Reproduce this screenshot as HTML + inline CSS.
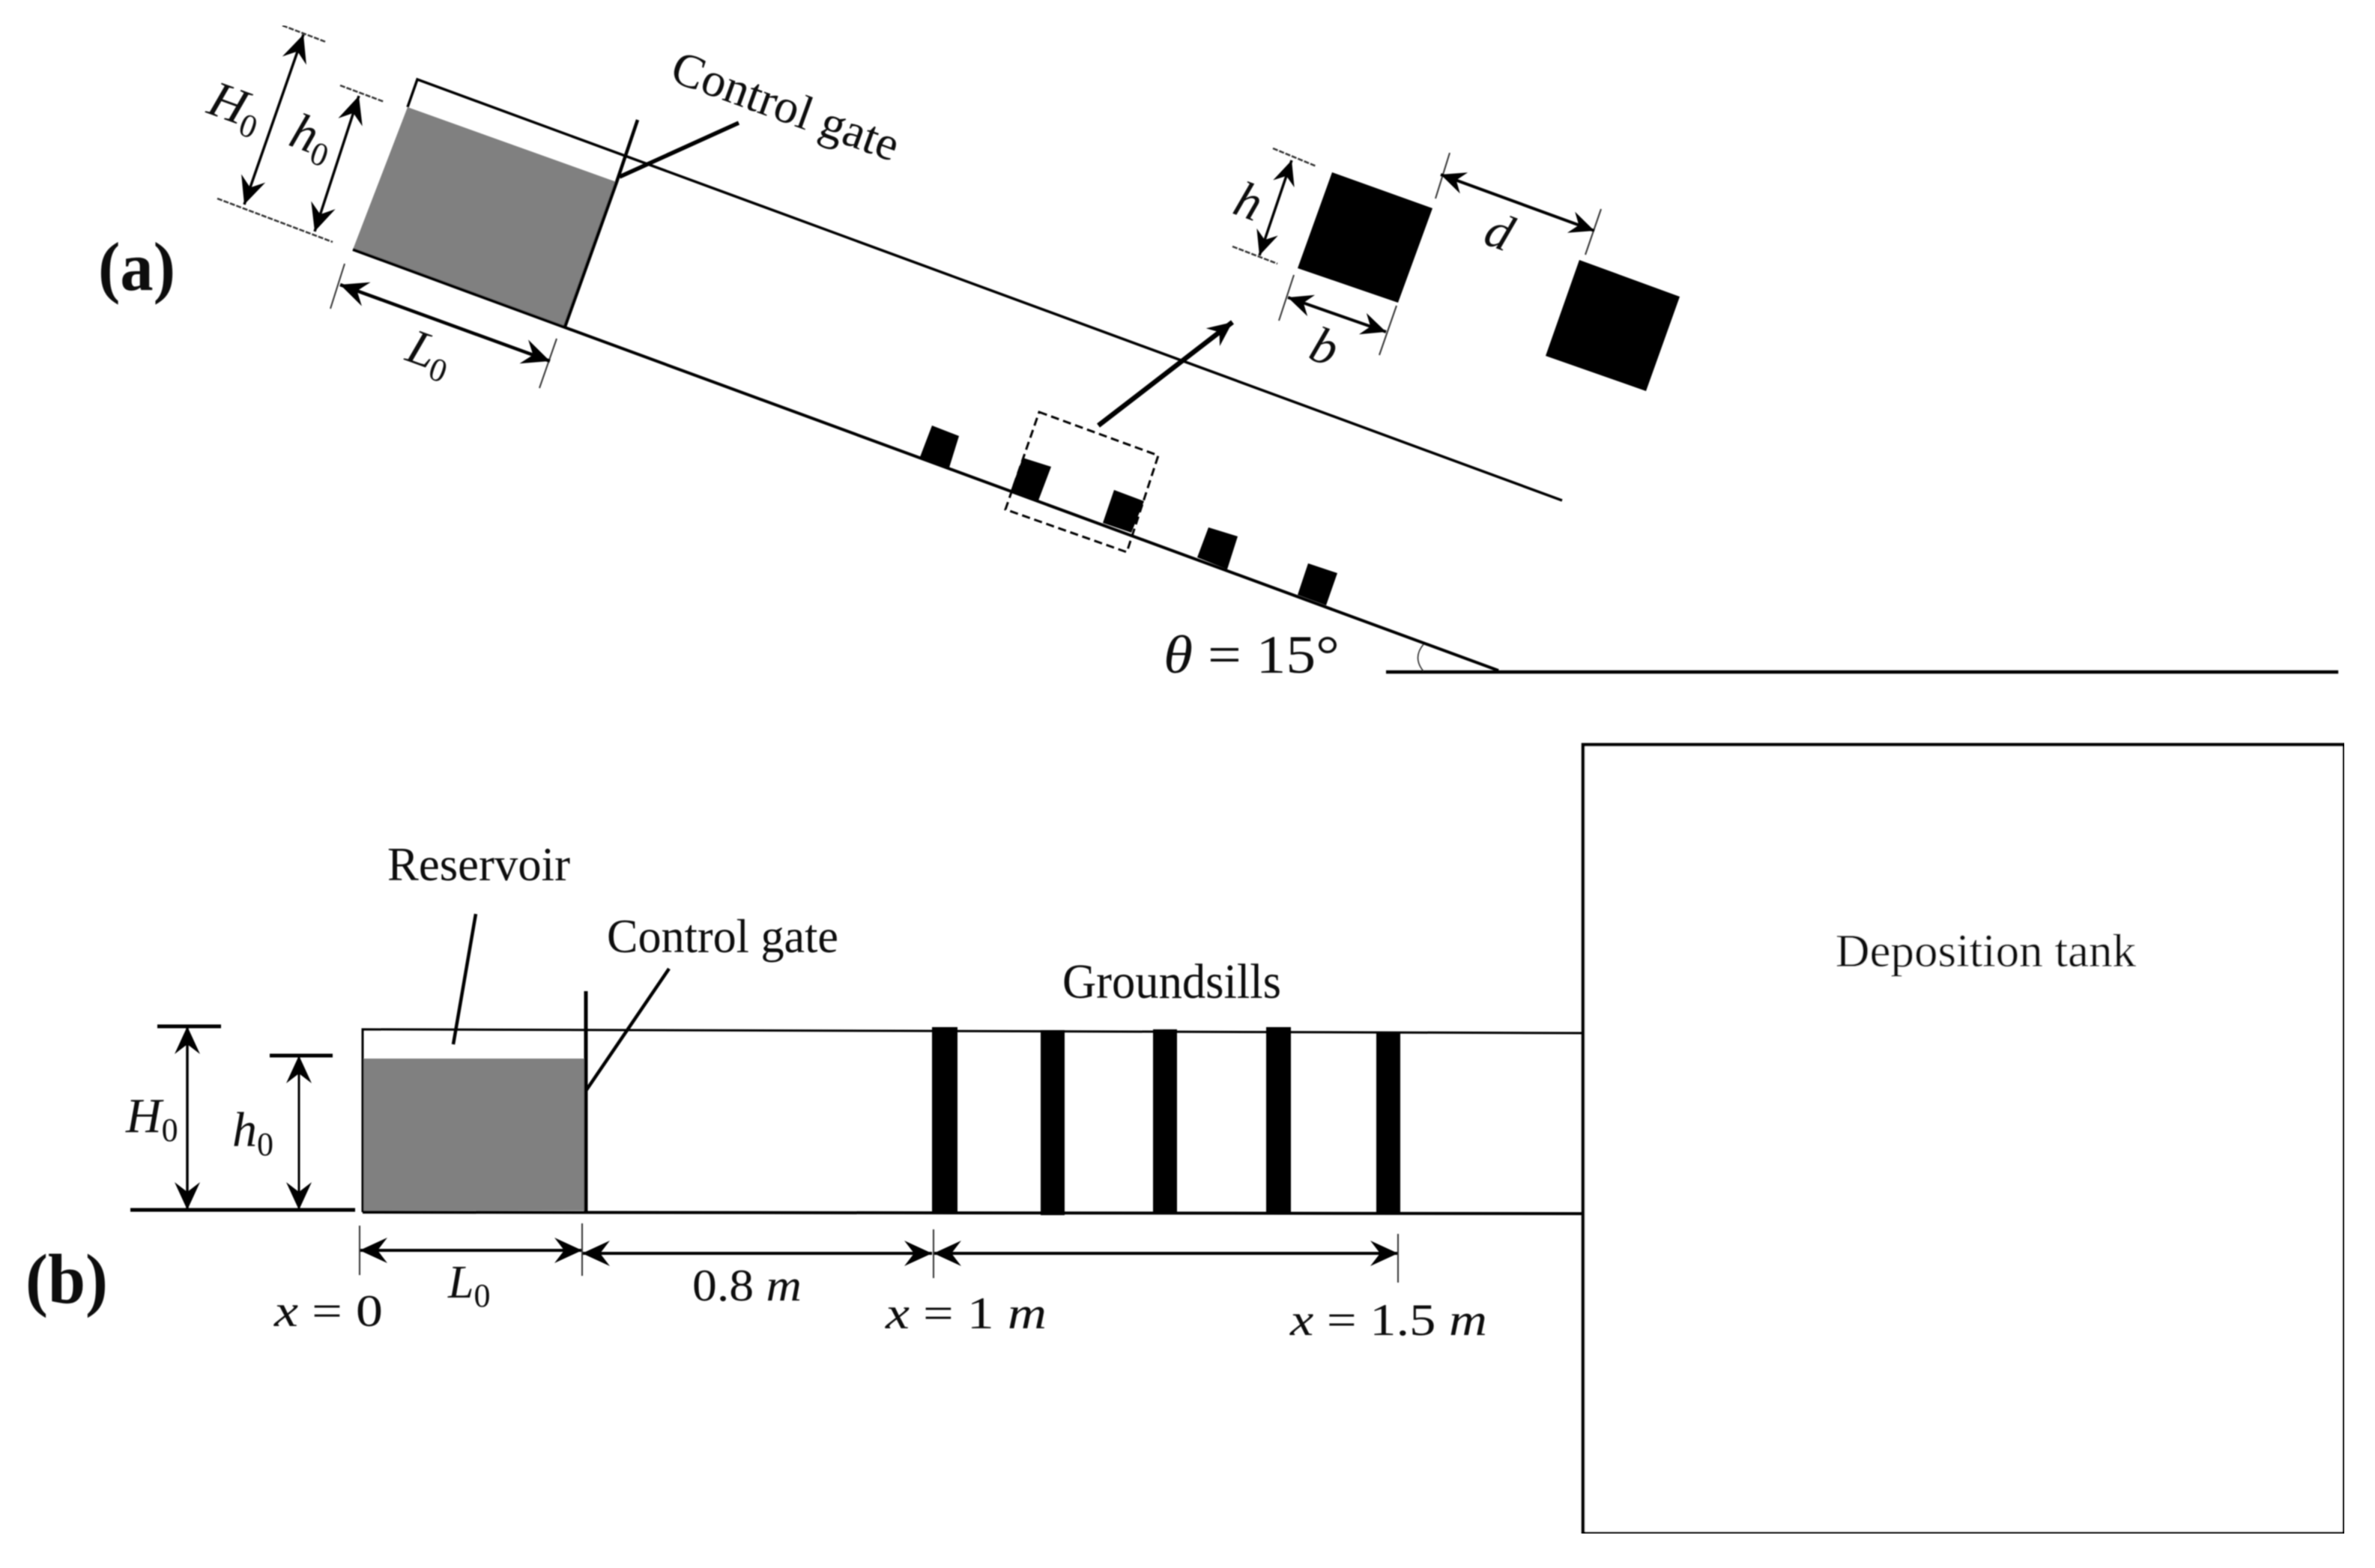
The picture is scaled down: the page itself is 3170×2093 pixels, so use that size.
<!DOCTYPE html>
<html><head><meta charset="utf-8"><style>
html,body{margin:0;padding:0;background:#fff}
svg{display:block}
text{font-family:"Liberation Serif",serif;fill:#111}
.m{font-style:italic}
.s{font-style:normal;font-size:44px}
</style></head><body>
<svg xmlns="http://www.w3.org/2000/svg" width="3170" height="2093" viewBox="0 0 3170 2093">
<defs>
<marker id="a" markerUnits="userSpaceOnUse" viewBox="-42 -20 46 40" refX="0" refY="0" markerWidth="46" markerHeight="40" orient="auto-start-reverse"><path d="M0,0 L-37,-17 L-24,0 L-37,17 Z" fill="#000"/></marker>
<marker id="c" markerUnits="userSpaceOnUse" viewBox="-42 -20 46 40" refX="0" refY="0" markerWidth="46" markerHeight="40" orient="auto-start-reverse"><path d="M0,0 L-33,-15 L-22,0 L-33,15 Z" fill="#000"/></marker>
<filter id="soft" x="0" y="0" width="100%" height="100%"><feGaussianBlur stdDeviation="0.7"/></filter>
</defs>
<rect width="3170" height="2093" fill="#fff"/>
<g filter="url(#soft)">

<!-- (a) inclined flume -->
<polygon points="544,143 823,243 754,436 471,333" fill="#808080"/>
<path d="M544,143 L557,106 L2085,668" fill="none" stroke="#000" stroke-width="3.5"/>
<path d="M471,333 L2000,895" fill="none" stroke="#000" stroke-width="4"/>
<path d="M851,160 L823,243 L754,436" fill="none" stroke="#000" stroke-width="4.5"/>
<line x1="986" y1="164" x2="827" y2="236" stroke="#000" stroke-width="5.5"/>
<line x1="1850" y1="897" x2="3121" y2="897" stroke="#000" stroke-width="4.5"/>
<path d="M1900,860 Q1885,878 1900,896" fill="none" stroke="#222" stroke-width="1.5"/>

<!-- dim ticks a -->
<g stroke="#333" stroke-width="2.5" fill="none">
<g stroke-dasharray="7,2">
<line x1="377" y1="34" x2="435" y2="56"/>
<line x1="290" y1="265" x2="444" y2="323"/>
<line x1="454" y1="114" x2="513" y2="136"/>
<line x1="1699" y1="198" x2="1757" y2="222"/>
<line x1="1645" y1="329" x2="1705" y2="352"/>
</g>
<line x1="460" y1="352" x2="441" y2="412" stroke-width="2"/>
<line x1="743" y1="452" x2="720" y2="518" stroke-width="2"/>
<line x1="1935" y1="204" x2="1916" y2="265" stroke-width="2"/>
<line x1="2137" y1="279" x2="2116" y2="340" stroke-width="2"/>
<line x1="1727" y1="367" x2="1707" y2="428" stroke-width="2"/>
<line x1="1864" y1="408" x2="1841" y2="474" stroke-width="2"/>
</g>
<g stroke="#000" stroke-width="3.5" fill="none">
<line x1="405" y1="46" x2="326" y2="273" marker-start="url(#a)" marker-end="url(#a)"/>
<line x1="479" y1="128" x2="420" y2="309" marker-start="url(#a)" marker-end="url(#a)"/>
<line x1="454" y1="380" x2="734" y2="482" stroke-width="4.5" marker-start="url(#a)" marker-end="url(#a)"/>
<line x1="1724" y1="214" x2="1681" y2="341" marker-start="url(#c)" marker-end="url(#c)"/>
<line x1="1923" y1="233" x2="2128" y2="308" stroke-width="4" marker-start="url(#c)" marker-end="url(#c)"/>
<line x1="1719" y1="397" x2="1850" y2="443" stroke-width="4" marker-start="url(#c)" marker-end="url(#c)"/>
<line x1="1466" y1="568" x2="1645" y2="430" stroke-width="6.5" marker-end="url(#c)"/>
</g>

<!-- groundsill detail -->
<polygon points="1778,230 1912,278 1866,404 1732,358" fill="#000"/>
<polygon points="2108,347 2242,396 2197,522 2063,475" fill="#000"/>
<polygon points="1244,568 1280,582 1267,624 1228,610" fill="#000"/>
<polygon points="1365,611 1403,623 1386,668 1349,655" fill="#000"/>
<polygon points="1487,654 1527,669 1510,711 1472,698" fill="#000"/>
<polygon points="1613,704 1652,716 1638,760 1598,744" fill="#000"/>
<polygon points="1746,752 1785,765 1770,808 1732,794" fill="#000"/>
<polygon points="1387,550 1546,608 1504,737 1342,680" fill="none" stroke="#000" stroke-width="3" stroke-dasharray="11,6"/>

<!-- labels a -->
<text x="131" y="387" font-size="92" font-weight="bold" textLength="103" lengthAdjust="spacingAndGlyphs">(a)</text>
<text transform="translate(892,107) rotate(20)" font-size="64" textLength="318" lengthAdjust="spacingAndGlyphs">Control gate</text>
<text class="m" transform="translate(274,150) rotate(20)" font-size="68">H<tspan class="s" dy="12">0</tspan></text>
<text class="m" transform="translate(383,193) rotate(20)" font-size="68">h<tspan class="s" dy="12">0</tspan></text>
<text class="m" transform="translate(539,480) rotate(20)" font-size="66">L<tspan class="s" dy="12">0</tspan></text>
<text class="m" x="1650" y="292" font-size="68" transform="rotate(20 1669 268)">h</text>
<text class="m" x="1984" y="334" font-size="68" transform="rotate(20 2008 311)">d</text>
<text class="m" x="1751" y="487" font-size="68" transform="rotate(20 1773 463)">b</text>
<text x="1553" y="898" font-size="72" textLength="235" lengthAdjust="spacingAndGlyphs"><tspan class="m">θ</tspan> = 15°</text>

<!-- (b) plan view -->
<rect x="484" y="1413" width="297" height="203" fill="#808080"/>
<path d="M474,1615 L174,1615" stroke="#000" stroke-width="5" fill="none"/>
<path d="M484,1618 L484,1374 L1200,1376 L2113,1379" stroke="#000" stroke-width="3" fill="none"/>
<path d="M484,1618 L2113,1620" stroke="#000" stroke-width="4" fill="none"/>
<line x1="782" y1="1323" x2="782" y2="1620" stroke="#000" stroke-width="5"/>
<line x1="635" y1="1220" x2="605" y2="1394" stroke="#000" stroke-width="4.5"/>
<line x1="893" y1="1293" x2="782" y2="1456" stroke="#000" stroke-width="4.5"/>
<g fill="#000">
<rect x="1244" y="1371" width="34" height="247"/>
<rect x="1389" y="1375" width="32" height="247"/>
<rect x="1539" y="1374" width="32" height="245"/>
<rect x="1690" y="1371" width="33" height="248"/>
<rect x="1837" y="1378" width="32" height="243"/>
</g>
<rect x="2113" y="994" width="1016" height="1053" fill="#fff" stroke="#000" stroke-width="4.5"/>

<g stroke="#000" stroke-width="5" fill="none">
<line x1="210" y1="1370" x2="295" y2="1370"/>
<line x1="360" y1="1409" x2="444" y2="1409"/>
</g>
<g stroke="#000" stroke-width="3.5" fill="none">
<line x1="250" y1="1370" x2="250" y2="1615" marker-start="url(#a)" marker-end="url(#a)"/>
<line x1="399" y1="1409" x2="399" y2="1615" stroke-width="3" marker-start="url(#a)" marker-end="url(#a)"/>
<line x1="480" y1="1669" x2="777" y2="1669" stroke-width="4" marker-start="url(#a)" marker-end="url(#a)"/>
<line x1="777" y1="1673" x2="1244" y2="1673" stroke-width="4" marker-start="url(#a)" marker-end="url(#a)"/>
<line x1="1246" y1="1673" x2="1866" y2="1673" stroke-width="4" marker-start="url(#a)" marker-end="url(#a)"/>
</g>
<g stroke="#333" stroke-width="2" fill="none">
<line x1="480" y1="1636" x2="480" y2="1702"/>
<line x1="777" y1="1633" x2="777" y2="1703"/>
<line x1="1246" y1="1641" x2="1246" y2="1706"/>
<line x1="1866" y1="1647" x2="1866" y2="1712"/>
</g>

<!-- labels b -->
<text x="34" y="1739" font-size="94" font-weight="bold" textLength="110" lengthAdjust="spacingAndGlyphs">(b)</text>
<text x="517" y="1175" font-size="64" textLength="244" lengthAdjust="spacingAndGlyphs">Reservoir</text>
<text x="810" y="1271" font-size="64" textLength="309" lengthAdjust="spacingAndGlyphs">Control gate</text>
<text x="1418" y="1332" font-size="66" textLength="292" lengthAdjust="spacingAndGlyphs">Groundsills</text>
<text x="2450" y="1290" font-size="62" textLength="401" lengthAdjust="spacingAndGlyphs">Deposition tank</text>
<text class="m" x="168" y="1511" font-size="66">H<tspan class="s" dy="12">0</tspan></text>
<text class="m" x="310" y="1530" font-size="66">h<tspan class="s" dy="12">0</tspan></text>
<text class="m" x="598" y="1732" font-size="62">L<tspan class="s" dy="12">0</tspan></text>
<text x="924" y="1736" font-size="60" textLength="146" lengthAdjust="spacingAndGlyphs">0.8 <tspan class="m">m</tspan></text>
<text x="366" y="1770" font-size="60" textLength="145" lengthAdjust="spacingAndGlyphs"><tspan class="m">x</tspan> = 0</text>
<text x="1182" y="1773" font-size="60" textLength="215" lengthAdjust="spacingAndGlyphs"><tspan class="m">x</tspan> = 1 <tspan class="m">m</tspan></text>
<text x="1722" y="1782" font-size="60" textLength="263" lengthAdjust="spacingAndGlyphs"><tspan class="m">x</tspan> = 1.5 <tspan class="m">m</tspan></text>
</g>
</svg>
</body></html>
